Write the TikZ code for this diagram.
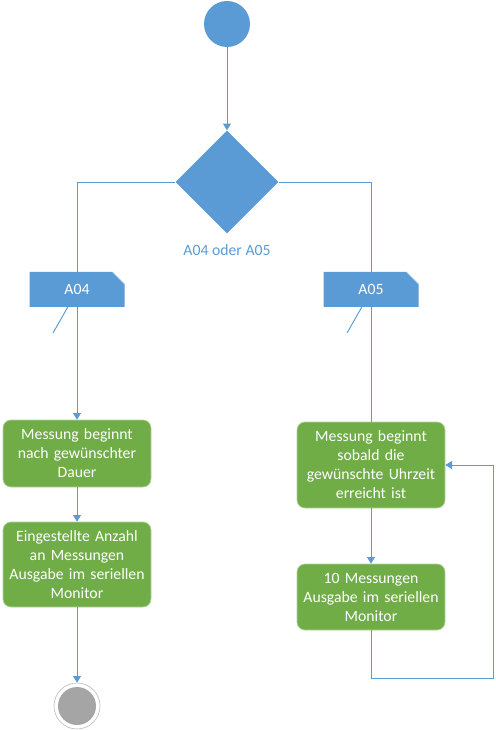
\documentclass[tikz,border=0pt]{standalone}
\usepackage{fontspec}
\setmainfont{Carlito}
\usetikzlibrary{shapes,arrows.meta,positioning,calc}
\definecolor{umlblue}{RGB}{91,155,213}
\definecolor{umlgreen}{RGB}{112,173,71}
\definecolor{umlgray}{RGB}{165,165,165}

\begin{document}
\begin{tikzpicture}[
  x=0.75pt, y=-0.75pt,
  font=\fontsize{11.8pt}{14.25pt}\selectfont,
  flow/.style={draw=umlblue, line width=0.7pt},
  arr/.style={flow, -{Triangle[length=5pt,width=6pt]}},
  act/.style={
    rectangle,
    rounded corners=6pt,
    fill=umlgreen,
    draw=umlgreen!55!white,
    line width=0.5pt,
    text=white,
    minimum width=111pt,
    text width=107pt,
    align=center,
    inner sep=0pt
  },
  note/.style={
    minimum width=71.25pt,
    minimum height=26.25pt,
    text=white,
    path picture={
      \fill[umlblue] (path picture bounding box.south west)
        -- (path picture bounding box.north west)
        -- ([xshift=-9pt]path picture bounding box.north east)
        -- ([yshift=-9pt]path picture bounding box.north east)
        -- (path picture bounding box.south east) -- cycle;
      \draw[umlblue!35!white, line width=0.4pt]
        ([xshift=-9pt]path picture bounding box.north east)
        -- ([yshift=-9pt]path picture bounding box.north east);
    }
  }
]
\useasboundingbox (0,0) rectangle (495,730);

% -------- Start and decision --------
\node[circle, fill=umlblue, minimum size=34.5pt, inner sep=0pt] (start) at (227,24) {};

\node[diamond, fill=umlblue, minimum width=77.25pt, minimum height=77.25pt,
  inner sep=0pt] (dec) at (227,182) {};

\node[text=umlblue] (declabel) at (227,250) {A04 oder A05};

% -------- Notes --------
\node[note] (a04) at (77,289.5) {A04};
\node[note] (a05) at (371,289.5) {A05};
\coordinate (a04tail) at (53,333);
\coordinate (a05tail) at (347,333);

% -------- Left branch --------
\node[act, minimum height=50.25pt] (wait) at (77,453.5)
{Messung beginnt\\nach gewünschter\\Dauer};

\node[act, minimum height=63.75pt] (count) at (77,564.5)
{Eingestellte Anzahl\\an Messungen\\Ausgabe im seriellen\\Monitor};

\node[circle, draw=umlgray!70!white, line width=0.5pt, minimum size=34.5pt,
  inner sep=0pt,
  path picture={\fill[umlgray] (path picture bounding box.center) circle (14.25pt);}]
  (stop) at (77,706) {};

% -------- Right branch --------
\node[act, minimum height=64.5pt] (clock) at (371,465)
{Messung beginnt\\sobald die\\gewünschte Uhrzeit\\erreicht ist};

\node[act, minimum height=49.5pt] (ten) at (371,597)
{10 Messungen\\Ausgabe im seriellen\\Monitor};

\coordinate (loop) at (493,678);

% -------- Connectors --------
\draw[arr] (start) -- (dec.north);

\draw[flow] (dec.west) -| (a04.north);
\draw[arr] (a04.south) -- (wait.north);
\draw[flow] ([xshift=-7pt]a04.south) -- (a04tail);
\draw[arr] (wait) -- (count);
\draw[arr] (count) -- (stop);

\draw[flow] (dec.east) -| (a05.north);
\draw[flow] (a05.south) -- (clock.north);
\draw[flow] ([xshift=-7pt]a05.south) -- (a05tail);
\draw[arr] (clock) -- (ten);
\draw[arr] (ten.south) |- (loop) |- (clock.east);

\end{tikzpicture}
\end{document}
